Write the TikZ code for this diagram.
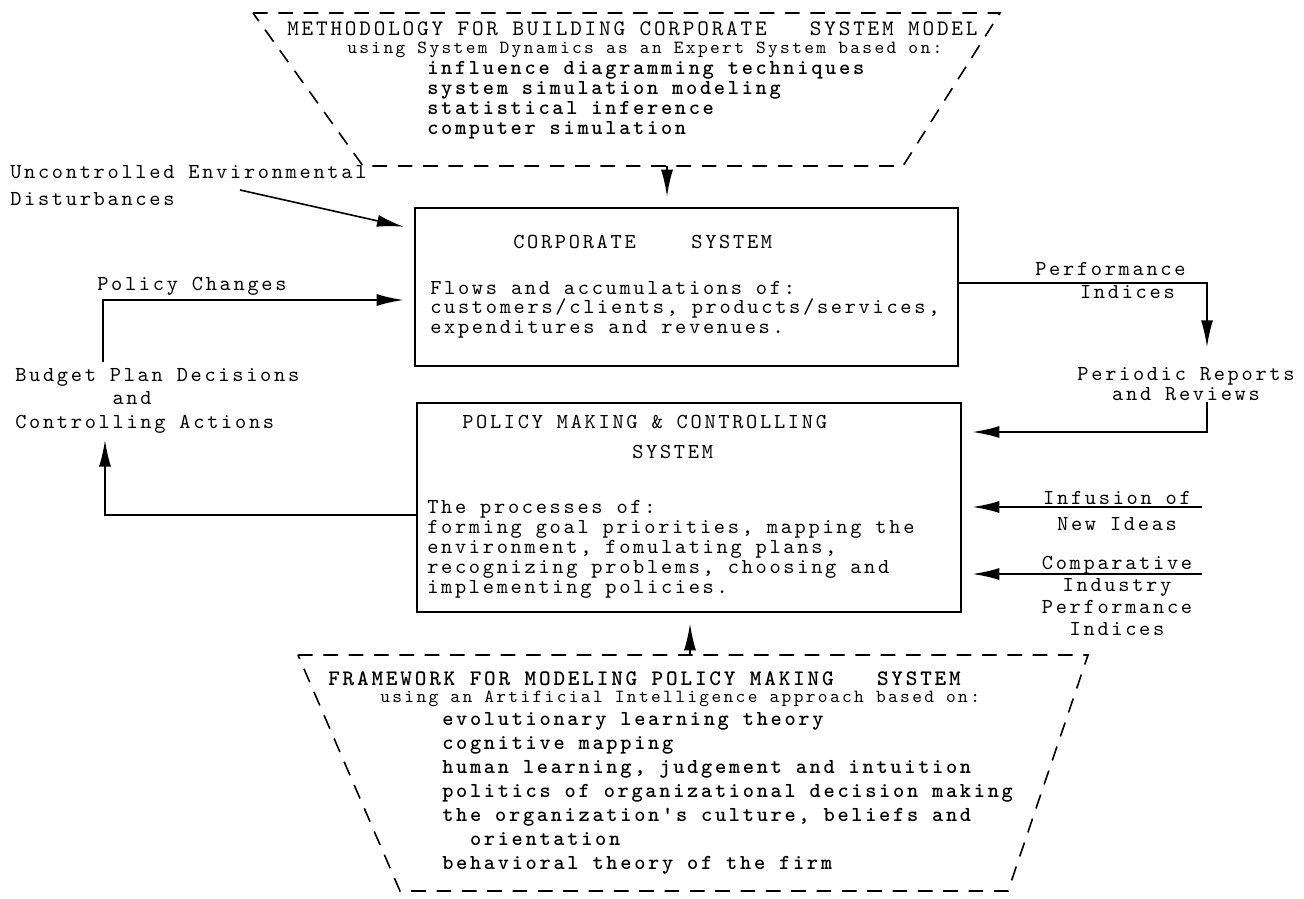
\documentclass[tikz,border=0pt]{standalone}
\usepackage{fontspec}
\usetikzlibrary{arrows.meta}
\newfontfamily\tw[LetterSpace=12.7,BoldFont=lmmonolt10-bold.otf]{lmmono10-regular.otf}
\newcommand{\bodyfont}{\tw\fontsize{16}{15}\selectfont}
\newcommand{\headfont}{\tw\fontsize{16.6}{15}\selectfont}
\newcommand{\subfont}{\tw\fontsize{13.9}{14}\selectfont}
\tikzset{
  sysbox/.style={draw, line width=1.5pt, inner sep=0pt},
  txt/.style={inner sep=0pt, font=\bodyfont},
  flow/.style={line width=1.2pt, -{Latex[length=20pt,width=9pt]}},
  into/.style={flow, shorten >=8pt},
  dashbox/.style={line width=1.2pt, dash pattern=on 11pt off 8pt}
}
\begin{document}
\begin{tikzpicture}[x=0.75pt,y=0.75pt,yscale=-1,xscale=1]
\useasboundingbox (0,0) rectangle (1304,899);

%Methodology (top, dashed)
\draw[dashbox] (253,13) -- (1000,13) -- (903,166) -- (363,166) -- cycle;
\node[txt, anchor=base west, font=\headfont] (methtitle) at (287,36) {METHODOLOGY FOR BUILDING CORPORATE\ \ \ SYSTEM MODEL};
\node[txt, anchor=base west, font=\subfont] (methsub) at (347,54) {using System Dynamics as an Expert System based on:};
\node[txt, anchor=base west, align=left, font=\bodyfont\bfseries] (methlist) at (427,134) {influence diagramming techniques\\ system simulation modeling\\ statistical inference\\ computer simulation};

%Corporate system
\node[sysbox, minimum width=407.25pt, minimum height=118.5pt] (corp) at (686.5,287) {};
\node[txt, anchor=base west] (corptitle) at (513,248) {CORPORATE\ \ \ \ SYSTEM};
\node[txt, anchor=base west, align=left, font=\tw\fontsize{16}{14.5}\selectfont] (corpbody) at (430,333) {Flows and accumulations of:\\ customers/clients, products/services,\\ expenditures and revenues.};

%Policy making system
\node[sysbox, minimum width=408pt, minimum height=156.75pt] (pol) at (689,507.5) {};
\node[txt, anchor=base west] (poltitle) at (462,428) {POLICY MAKING \& CONTROLLING};
\node[txt, anchor=base west] (polsys) at (632,458) {SYSTEM};
\node[txt, anchor=base west, align=left] (polbody) at (427,593) {The processes of:\\ forming goal priorities, mapping the\\ environment, fomulating plans,\\ recognizing problems, choosing and\\ implementing policies.};

%Left labels
\node[txt, anchor=base west, align=left, font=\tw\fontsize{16}{20}\selectfont] (uncdist) at (10,205) {Uncontrolled Environmental\\ Disturbances};
\node[txt, anchor=base west] (polchg) at (97,290) {Policy Changes};
\node[txt, anchor=base west, align=left, font=\tw\fontsize{16}{17.3}\selectfont] (budget) at (15,428) {Budget Plan Decisions\\ \hspace*{4.56em}and\\ Controlling Actions};

%Right labels
\node[txt, anchor=base west, align=left, font=\tw\fontsize{16}{17}\selectfont] (perfidx) at (1035,298) {Performance\\ \hspace*{2.1em}Indices};
\node[txt, anchor=base, align=center] (periodic) at (1186,400) {Periodic Reports\\ and Reviews};
\node[txt, anchor=base, align=center, font=\tw\fontsize{16}{19.5}\selectfont] (infusion) at (1117,530) {Infusion of\\ New Ideas};
\node[txt, anchor=base, align=center, font=\tw\fontsize{16}{16.3}\selectfont] (compar) at (1117,635) {Comparative\\ Industry\\ Performance\\ Indices};

%Framework (bottom, dashed)
\draw[dashbox] (298,655) -- (1088,655) -- (1008,891) -- (400,891) -- cycle;
\node[txt, anchor=base west, font=\headfont\bfseries] (frametitle) at (328,685) {FRAMEWORK FOR MODELING POLICY MAKING\ \ \ SYSTEM};
\node[txt, anchor=base west, font=\subfont] (framesub) at (380,702) {using an Artificial Intelligence approach based on:};
\node[txt, anchor=base west, align=left, font=\tw\fontsize{16}{18}\selectfont\bfseries] (framelist) at (442,869) {evolutionary learning theory\\ cognitive mapping\\ human learning, judgement and intuition\\ politics of organizational decision making\\ the organization's culture, beliefs and\\ \hspace*{1.3em}orientation\\ behavioral theory of the firm};

%Connectors
\coordinate (uncfoot) at (240,190);
\coordinate (pcfoot) at (103,362);
\coordinate (pcturn) at (103,300);
\coordinate (ctlturn) at (105,515);
\coordinate (ctltip) at (105,440);
\coordinate (perfturn) at (1207,283);
\coordinate (perftip) at (1207,347);
\coordinate (revfoot) at (1207,402);
\coordinate (revturn) at (1207,432);
\coordinate (inffoot) at (1202,507);
\coordinate (cmpfoot) at (1202,574);
\coordinate (methfoot) at (667,166);
\coordinate (framehead) at (690,655);

\draw[into] (uncfoot) -- (corp.168);
\draw[into] (pcfoot) -- (pcturn) -- (pcturn -| corp.west);
\draw[flow] (pol.west |- ctlturn) -- (ctlturn) -- (ctltip);
\draw[flow] (corp.east |- perfturn) -- (perfturn) -- (perftip);
\draw[into] (revfoot) -- (revturn) -- (revturn -| pol.east);
\draw[into] (inffoot) -- (inffoot -| pol.east);
\draw[into] (cmpfoot) -- (cmpfoot -| pol.east);
\draw[into] (methfoot) -- (methfoot |- corp.north);
\draw[into] (framehead) -- (framehead |- pol.south);

\end{tikzpicture}
\end{document}
